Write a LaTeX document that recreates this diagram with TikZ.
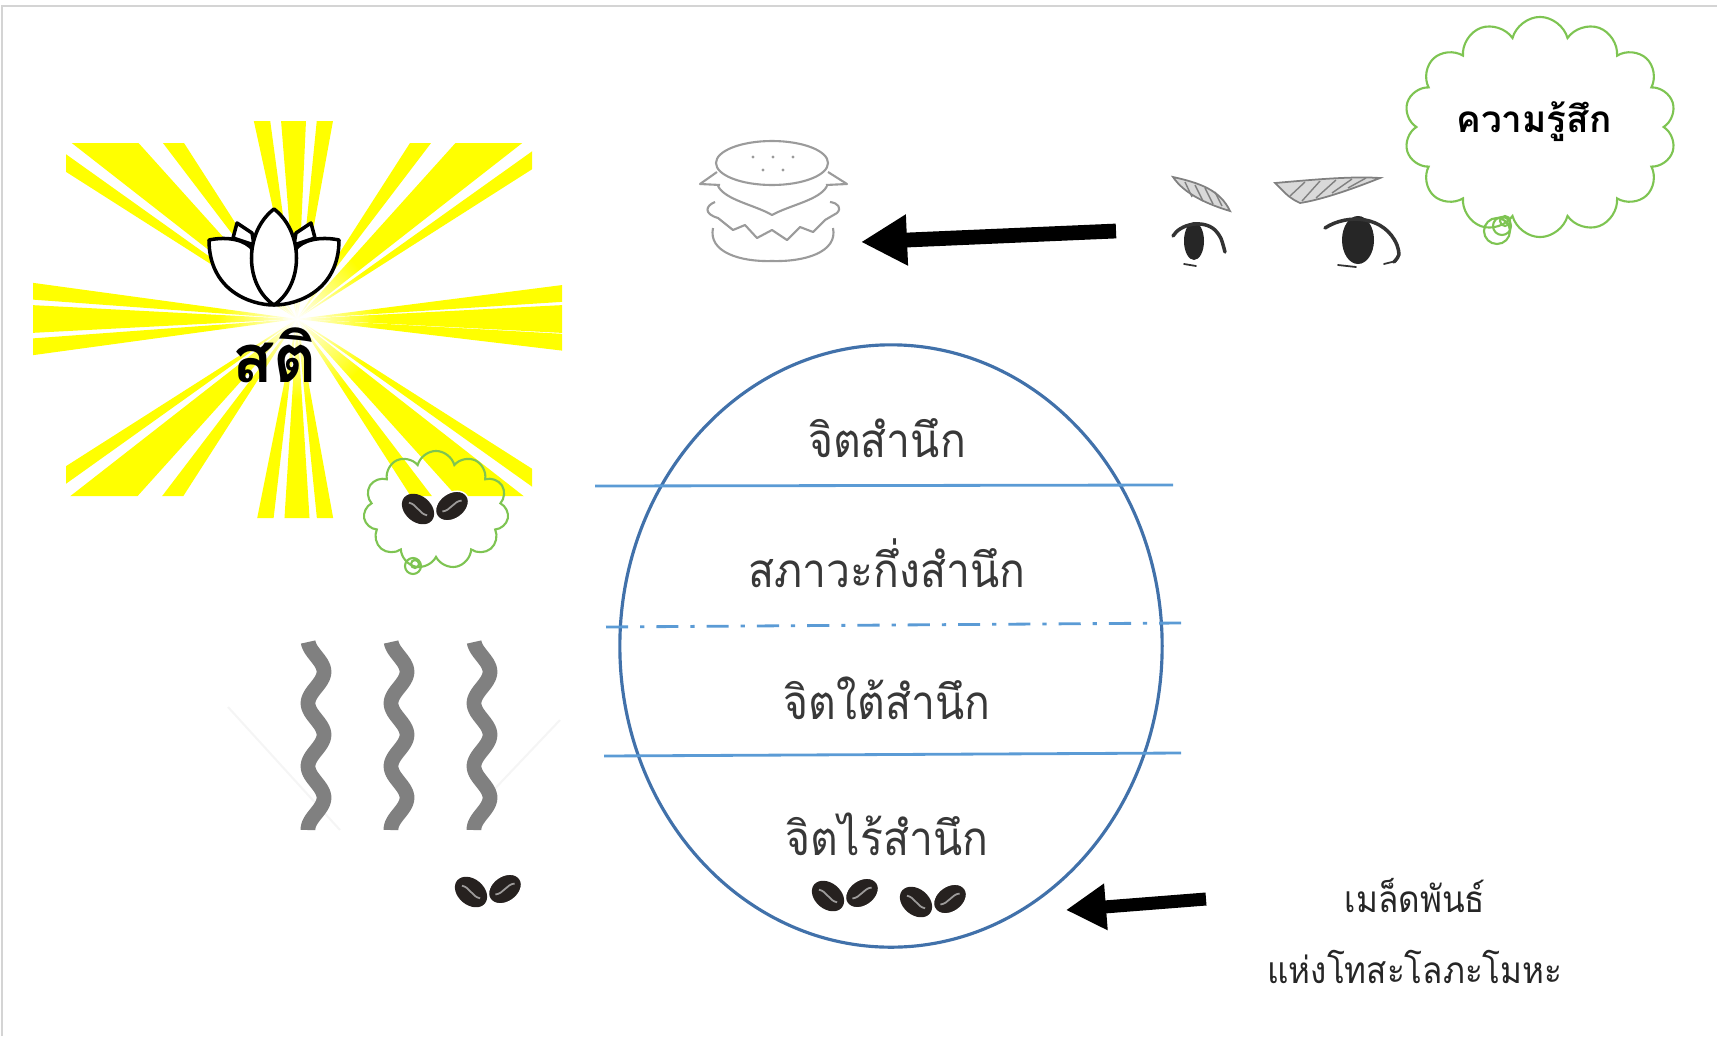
\documentclass[tikz,border=0pt]{standalone}
\usepackage{fontspec}
\newfontfamily\thaifont[Script=Thai]{Loma}
\newfontfamily\thainarrow[Script=Thai, FakeStretch=0.9]{Loma}
\usetikzlibrary{arrows.meta,shapes.symbols,shapes.geometric,fadings}
\definecolor{rayyellow}{RGB}{255,255,0}
\definecolor{cloudgreen}{RGB}{126,196,82}
\definecolor{ringblue}{RGB}{65,113,170}
\definecolor{layerblue}{RGB}{91,155,213}
\definecolor{beanbrown}{RGB}{38,33,31}
\definecolor{wavegray}{RGB}{128,128,128}
\definecolor{bungray}{RGB}{155,155,155}
\definecolor{framegray}{RGB}{212,212,212}
\tikzfading[name=glowfade, inner color=transparent!0, outer color=transparent!100]
\tikzset{
  beans/.pic={
    \fill[beanbrown, shift={(-17,0)}, rotate=-40] (0,0) ellipse [x radius=18, y radius=13];
    \draw[white!55!beanbrown, line width=0.5pt, shift={(-17,0)}, rotate=-40] (-11,1) .. controls (-4,-3) and (4,3) .. (11,-1);
    \filldraw[beanbrown, draw=white, line width=0.4pt, shift={(17,-3)}, rotate=35] (0,0) ellipse [x radius=18, y radius=13];
    \draw[white!55!beanbrown, line width=0.5pt, shift={(17,-3)}, rotate=35] (-11,-1) .. controls (-4,3) and (4,-3) .. (11,1);
  }
}
\begin{document}
\begin{tikzpicture}[x=0.01cm, y=-0.01cm,
  layer/.style={layerblue, line width=0.8pt},
  layertext/.style={font=\thainarrow\fontsize{13.5}{16}\selectfont, text=black!78, anchor=base, inner sep=0pt},
  wave/.style={wavegray, line width=4.2pt},
  bun/.style={bungray, line width=0.6pt, line join=round},
  sketch/.style={black!80, line width=1pt, line cap=round},
  brow/.style={fill=black!15, draw=black!50, line width=0.5pt},
  puff/.style={cloud, draw=cloudgreen, line width=0.6pt, cloud ignores aspect, inner sep=0pt},
  bigarrow/.style={line width=4.2pt, -{Triangle[length=0.46cm, width=0.48cm]}}]
\useasboundingbox (0,0) rectangle (1727,1036);
\draw[framegray, line width=0.6pt] (2,1036) -- (2,6) -- (1717,6);
\begin{scope}
\clip (66,143) rectangle (532,496) (33,268) rectangle (562,382) (238,121) rectangle (352,518);
\foreach \a/\w in {-100/2.3,-91/3.6,-82/2.3,99/2.3,90/3.6,82/2.3,-174/1.8,180/3,174/1.8,-5.5/1.8,0/3,5/1.8,
  -137/5,-125/2.3,-146/1.5,-43/5,-55/2.3,-34/1.5,137/5,125/2.3,146/1.5,43/5,55/2.3,34/1.5}
  \fill[rayyellow] (297,319) -- +(\a-\w:800) -- +(\a+\w:800) -- cycle;
\end{scope}
\fill[white, path fading=glowfade] (297,319) circle (80);
\filldraw[white, draw=black, line width=1pt, line join=round] (233,238) -- (237,223) -- (252,233) -- (254,245) -- cycle;
\filldraw[white, draw=black, line width=1pt, line join=round] (315,238) -- (311,223) -- (296,233) -- (294,245) -- cycle;
\filldraw[white, draw=black, line width=1pt, line join=round] (209,240) .. controls (209,290) and (250,305) .. (274,305) .. controls (298,305) and (339,290) .. (339,240) .. controls (320,236) and (302,240) .. (295,250) -- (253,250) .. controls (246,240) and (228,236) .. (209,240) -- cycle;
\filldraw[white, draw=black, line width=1pt, line join=round] (274,305) .. controls (244,285) and (244,232) .. (274,209) .. controls (304,232) and (304,285) .. (274,305) -- cycle;
\node[font=\thaifont\bfseries\fontsize{19}{23}\selectfont, anchor=base, inner sep=0pt] (sati) at (275,382) {สติ};
\node[puff, cloud puffs=11, minimum width=1.45cm, minimum height=1.18cm] (seedcloud) at (436,510) {};
\draw[cloudgreen, line width=0.6pt] (413,566) circle (8) (415,564) circle (4);
\pic (seedthought) at (435,509) {beans};
\draw[black!4, line width=0.6pt] (228,707) -- (340,830) (560,720) -- (487,797);
\foreach \cx in {316,399,482}
  \draw[wave] plot[domain=642:830, samples=90] ({\cx+8*sin((\x-656)/63*360)}, \x);
\pic (seedfree) at (488,892) {beans};
\draw[bun] (772,163) ellipse [x radius=56, y radius=22];
\foreach \sx/\sy in {753/157,773/157,793/157,763/170,783/170}
  \fill[bungray] (\sx,\sy) circle (1.6);
\draw[bun] (717,172) -- (700,184) -- (720,185) (828,172) -- (847,184) -- (826,185);
\draw[bun] (718,186) .. controls (725,200) and (755,205) .. (772,215) .. controls (790,205) and (820,200) .. (827,186);
\draw[bun] (715,202) .. controls (705,206) and (704,214) .. (718,218) -- (723,222) -- (733,230) -- (745,225) -- (757,238) -- (772,230) -- (787,240) -- (800,227) -- (813,232) -- (825,220) -- (837,213) .. controls (842,208) and (838,203) .. (830,202);
\draw[bun] (713,228) .. controls (708,252) and (740,262) .. (772,261) .. controls (805,262) and (838,252) .. (833,228);
\filldraw[brow] (1173,177) .. controls (1200,183) and (1220,190) .. (1230,211) .. controls (1210,205) and (1185,195) .. (1173,177) -- cycle;
\draw[black!50, line width=0.4pt] (1185,182) -- (1192,197) (1195,185) -- (1203,201) (1205,188) -- (1213,204) (1215,192) -- (1222,206);
\filldraw[brow] (1275,183) .. controls (1310,180) and (1350,176) .. (1380,178) .. controls (1350,190) and (1320,200) .. (1300,203) .. controls (1290,198) .. (1275,183) -- cycle;
\draw[black!50, line width=0.4pt] (1290,196) -- (1305,182) (1302,201) -- (1320,181) (1316,198) -- (1336,180) (1332,193) -- (1352,179) (1348,188) -- (1366,178);
\fill[black!85] (1194,241) ellipse [x radius=10, y radius=19];
\draw[sketch] (1173,236) .. controls (1180,224) and (1203,219) .. (1215,230) .. controls (1221,237) .. (1225,252);
\draw[sketch, line width=0.5pt] (1184,264) -- (1196,266);
\fill[black!85] (1358,240) ellipse [x radius=16, y radius=24];
\draw[sketch] (1325,228) .. controls (1348,213) and (1385,216) .. (1397,245) .. controls (1400,255) .. (1394,262);
\draw[sketch, line width=0.5pt] (1338,265) -- (1356,267) (1384,264) -- (1396,261);
\coordinate (gaze) at (1116,231);
\coordinate (food) at (861,242);
\draw[bigarrow] (gaze) -- (food);
\node[puff, cloud puffs=14, minimum width=2.72cm, minimum height=2.2cm] (feeling) at (1540,127) {};
\draw[cloudgreen, line width=0.6pt] (1497,231) circle (13) (1502,226) circle (9) (1505,221) circle (5);
\node[font=\thaifont\bfseries\fontsize{10.5}{13}\selectfont, anchor=base, inner sep=0pt] (feeltext) at (1534,132) {ความรู้สึก};
\node[draw=ringblue, line width=0.9pt, ellipse, minimum width=5.42cm, minimum height=6.02cm, inner sep=0pt] (mind) at (891,646) {};
\draw[layer] (595,486) -- (1173,485);
\draw[layer, dash pattern=on 6.3pt off 3.4pt on 1.2pt off 3.4pt] (606,627) -- (1181,623);
\draw[layer] (604,756) -- (1181,753);
\node[layertext] (conscious) at (887,457) {จิตสำนึก};
\node[layertext] (preconscious) at (887,587) {สภาวะกึ่งสำนึก};
\node[layertext] (subconscious) at (887,719) {จิตใต้สำนึก};
\node[layertext] (unconscious) at (887,855) {จิตไร้สำนึก};
\pic (seedleft) at (845,896) {beans};
\pic (seedright) at (933,902) {beans};
\coordinate (seedsrc) at (1206,899);
\coordinate (seeddst) at (1066,910);
\draw[bigarrow, line width=3.7pt, -{Triangle[length=0.40cm, width=0.44cm]}] (seedsrc) -- (seeddst);
\node[layertext, font=\thainarrow\fontsize{10.5}{13}\selectfont, text=black!85] (seedname) at (1415,912) {เมล็ดพันธ์};
\node[layertext, font=\thainarrow\fontsize{10.5}{13}\selectfont, text=black!85] (poisons) at (1415,983) {แห่งโทสะโลภะโมหะ};
\end{tikzpicture}
\end{document}
